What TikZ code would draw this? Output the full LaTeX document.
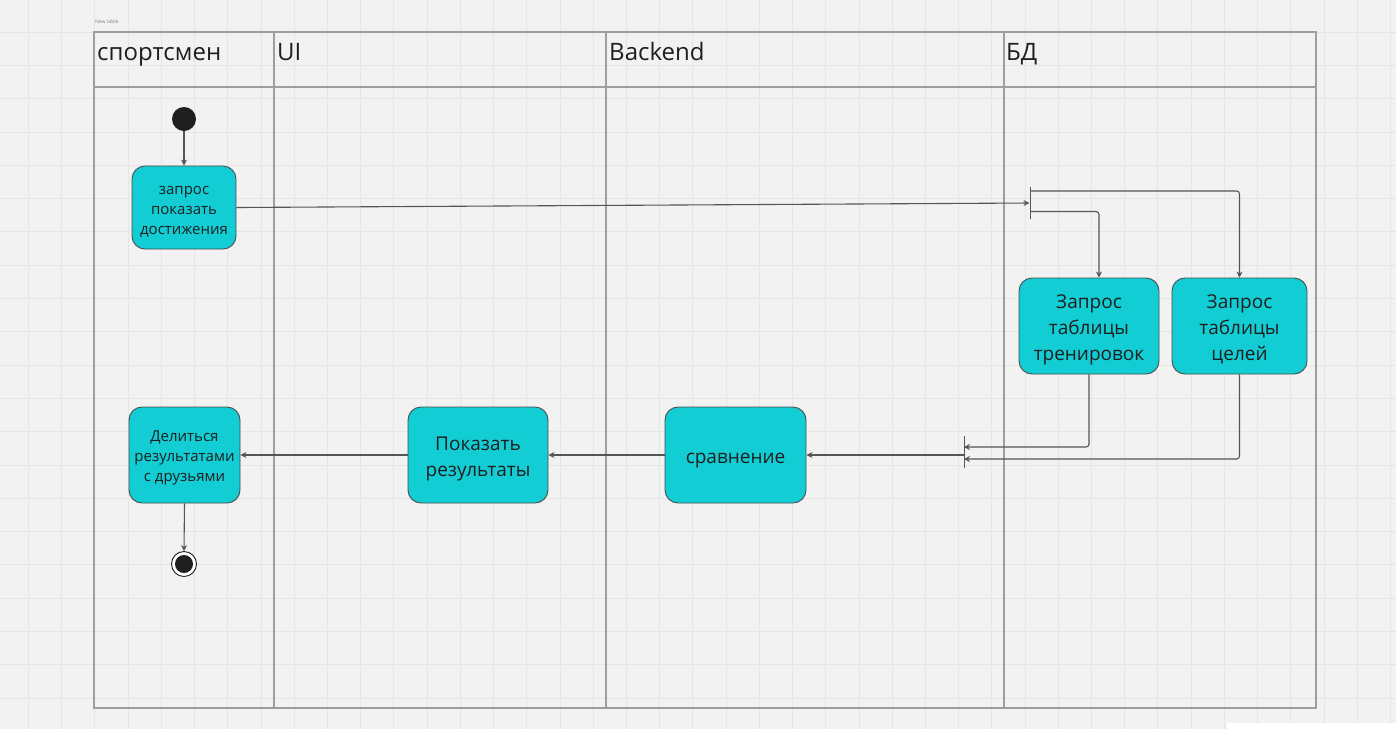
\documentclass[tikz,border=0pt]{standalone}
\usepackage{fontspec}
\setmainfont{Open Sans}
\usepackage{tikz}
\usetikzlibrary{arrows.meta}

\definecolor{boardbg}{HTML}{F2F2F2}
\definecolor{gridcol}{HTML}{E5E5E5}
\definecolor{lanecol}{HTML}{9E9E9E}
\definecolor{linecol}{HTML}{555555}
\definecolor{boxcyan}{HTML}{13CDD4}
\definecolor{inkcol}{HTML}{1E1E1E}

% raises the first line of a box text like the board does
\newcommand{\boxstrut}{\rule{0pt}{1.1em}}

\tikzset{
  gridline/.style={draw=gridcol, line width=0.8pt},
  laneline/.style={draw=lanecol, line width=1.2pt},
  lanetitle/.style={anchor=base west, inner sep=0pt, text=inkcol, font=\fontsize{24}{28}\selectfont},
  actbox/.style={draw=inkcol!80, line width=0.9pt, fill=boxcyan, rounded corners=13pt,
    inner sep=0pt, align=center, text=inkcol},
  smalltxt/.style={font=\fontsize{15}{20}\selectfont},
  bigtxt/.style={font=\fontsize{19}{26}\selectfont},
  barv/.style={draw=linecol, line width=1pt, inner sep=0pt, minimum width=0pt, minimum height=32pt},
  conn/.style={draw=linecol, line width=1.1pt, rounded corners=3pt, -{Stealth[length=6pt,width=6pt]}},
  startdot/.style={circle, fill=inkcol, inner sep=0pt, minimum size=24pt},
  enddot/.style={circle, draw=inkcol, line width=0.9pt, fill=white, inner sep=0pt, minimum size=25pt}
}

\begin{document}
\begin{tikzpicture}[x=1pt,y=-1pt]
    % board and grid
    \useasboundingbox (0,0) rectangle (1396,729);
    \fill[boardbg] (0,0) rectangle (1396,729);
    \foreach \i in {0,...,41}
    \draw[gridline] ({28.4+33.22*\i},0) -- ++(0,729);
    \foreach \j in {0,...,22}
    \draw[gridline] (0,{-1.3+33.3*\j}) -- ++(1396,0);
    \fill[white, rounded corners=2pt] (1227,723) rectangle (1410,740);

    % draw table
    \node[anchor=west, inner sep=0pt, text=gray, font=\fontsize{5}{6}\selectfont] (tabname) at (95,22) {New table};
    \draw[laneline] (94,32) rectangle (1316,708);
    \draw[laneline] (94,87) -- (1316,87);
    \foreach \x in {274,606,1004}
    \draw[laneline] (\x,32) -- (\x,708);

    % lane titles
    \node[lanetitle] (lane1) at (97,60) {спортсмен};
    \node[lanetitle] (lane2) at (277,60) {UI};
    \node[lanetitle] (lane3) at (609,60) {Backend};
    \node[lanetitle] (lane4) at (1006,60) {БД};

    % draw nodes
    \node[startdot] (start) at (184,119) {};
    \node[actbox, smalltxt, minimum width=104pt, minimum height=83pt] (zapros) at (184,207.5) {\boxstrut запрос\\показать\\достижения};
    \node[barv] (fork) at (1030,203) {};
    \node[actbox, bigtxt, minimum width=140pt, minimum height=96pt] (trenir) at (1089,326) {\boxstrut Запрос\\таблицы\\тренировок};
    \node[actbox, bigtxt, minimum width=135pt, minimum height=96pt] (celi) at (1239.5,326) {\boxstrut Запрос\\таблицы\\целей};
    \node[barv] (join) at (964,452) {};
    \node[actbox, bigtxt, minimum width=141pt, minimum height=96pt] (sravn) at (735.5,455) {\boxstrut сравнение};
    \node[actbox, bigtxt, minimum width=140pt, minimum height=96pt] (pokaz) at (478,455) {\boxstrut Показать\\результаты};
    \node[actbox, smalltxt, minimum width=111pt, minimum height=96pt] (delit) at (184.5,455) {\boxstrut Делиться\\результатами\\с друзьями};
    \node[enddot] (final) at (184,564) {};
    \fill[inkcol] (final) circle (9pt);

    % draw connectors
    \draw[conn] (start) -- (zapros);
    \draw[conn] (zapros.east) -- (fork);
    \draw[conn] ([yshift=12pt]fork.center) -| (celi.north);
    \draw[conn] ([yshift=-8.5pt]fork.center) -| ([xshift=10pt]trenir.north);
    \draw[conn] (trenir.south) |- ([yshift=5pt]join.center);
    \draw[conn] (celi.south) |- ([yshift=-7pt]join.center);
    \draw[conn] ([yshift=-3pt]join.center) -- (sravn.east);
    \draw[conn] (sravn.west) -- (pokaz.east);
    \draw[conn] (pokaz.west) -- (delit.east);
    \draw[conn] (delit.south) -- (final.north);

  \end{tikzpicture}
\end{document}
